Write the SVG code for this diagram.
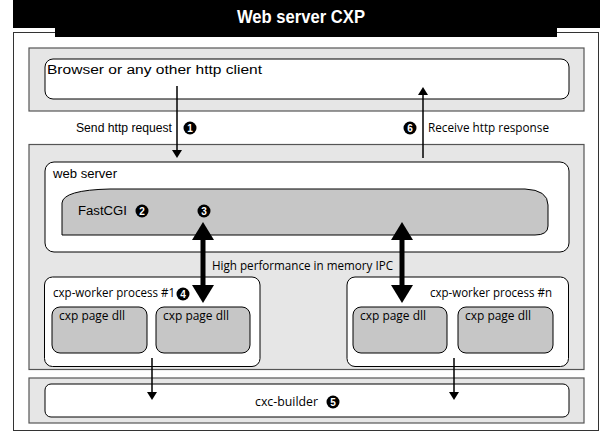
<svg xmlns="http://www.w3.org/2000/svg" width="600" height="433" viewBox="0 0 600 433">
<style>
.panel{fill:#e6e6e6;stroke:#555;stroke-width:1.2}
.wbox{fill:#fff;stroke:#000;stroke-width:1}
.gbox{fill:#c6c6c6;stroke:#000;stroke-width:1}
.a{font-family:"Liberation Sans",Arial,sans-serif;font-size:12px;fill:#000}
.m{font-family:"Open Sans","Liberation Sans",sans-serif;font-size:12px;fill:#000}
.num circle{fill:#000}
.num text{font-family:"Liberation Sans",Arial,sans-serif;font-size:10px;font-weight:bold;fill:#fff;text-anchor:middle}
.thin{stroke:#000;stroke-width:1.5;fill:none}
.thick{stroke:#000;stroke-width:5;fill:none}
</style>
<defs>
<marker id="ah" markerUnits="userSpaceOnUse" viewBox="0 0 8 10" refX="0" refY="5" markerWidth="8" markerHeight="10" orient="auto-start-reverse"><path d="M0,0 L8,5 L0,10 Z" fill="#000"/></marker>
<marker id="bh" markerUnits="userSpaceOnUse" viewBox="0 0 18 22" refX="0" refY="11" markerWidth="18" markerHeight="22" orient="auto-start-reverse"><path d="M0,0 L18,11 L0,22 Z" fill="#000"/></marker>
</defs>
<rect width="600" height="433" fill="#fff"/>
<g id="frame">
<rect x="13.5" y="32.5" width="585" height="398" fill="#fff" stroke="#333" stroke-width="1"/>
<path d="M13 0 H600 V28 H557 V37 H55 V28 H13 Z" fill="#000"/>
<text x="301" y="23" text-anchor="middle" font-family="Liberation Sans, Arial, sans-serif" font-size="18" font-weight="bold" fill="#fff" textLength="128" lengthAdjust="spacingAndGlyphs">Web server CXP</text>
</g>
<g id="client">
<rect class="panel" x="29" y="48" width="555" height="63"/>
<rect class="wbox" x="45" y="59" width="524" height="40" rx="8"/>
<text class="a" x="47" y="74" textLength="215" lengthAdjust="spacingAndGlyphs">Browser or any other http client</text>
</g>
<g id="server-panel">
<rect class="panel" x="29" y="144.5" width="555" height="225"/>
</g>
<g id="webserver">
<rect class="wbox" x="45" y="162" width="524" height="90" rx="9"/>
<text class="a" x="53" y="178" textLength="64" lengthAdjust="spacingAndGlyphs">web server</text>
</g>
<g id="fastcgi">
<path class="gbox" d="M62 203 Q63 190 110 189 L525 189 Q548 190 548 205 L548 226 Q548 235 535 235 L62 235 Z"/>
<text class="a" x="78" y="215" textLength="49" lengthAdjust="spacingAndGlyphs">FastCGI</text>
<g class="num"><circle cx="142" cy="211" r="6.5"/><text x="142" y="214.6">2</text></g>
<g class="num"><circle cx="204" cy="211" r="6.5"/><text x="204" y="214.6">3</text></g>
</g>
<g id="worker1">
<rect class="wbox" x="44.5" y="277" width="215.5" height="89.5" rx="8"/>
<text class="m" x="53" y="297" textLength="122" lengthAdjust="spacingAndGlyphs">cxp-worker process #1</text>
<g class="num"><circle cx="183" cy="294" r="6.5"/><text x="183" y="297.6">4</text></g>
<rect class="gbox" x="52" y="307" width="95" height="46" rx="8"/>
<text class="m" x="59" y="320" textLength="66" lengthAdjust="spacingAndGlyphs">cxp page dll</text>
<rect class="gbox" x="156" y="307" width="94" height="46" rx="8"/>
<text class="m" x="163" y="320" textLength="66" lengthAdjust="spacingAndGlyphs">cxp page dll</text>
</g>
<g id="workern">
<rect class="wbox" x="347" y="277" width="221.5" height="89.5" rx="8"/>
<text class="m" x="430" y="297" textLength="122" lengthAdjust="spacingAndGlyphs">cxp-worker process #n</text>
<rect class="gbox" x="353" y="307" width="94" height="46" rx="8"/>
<text class="m" x="360" y="320" textLength="66" lengthAdjust="spacingAndGlyphs">cxp page dll</text>
<rect class="gbox" x="458" y="307" width="95" height="46" rx="8"/>
<text class="m" x="465" y="320" textLength="66" lengthAdjust="spacingAndGlyphs">cxp page dll</text>
</g>
<g id="builder">
<rect class="panel" x="29" y="378" width="555" height="45"/>
<rect class="wbox" x="45" y="384" width="524" height="33" rx="6"/>
<text class="m" x="255" y="406" textLength="63" lengthAdjust="spacingAndGlyphs">cxc-builder</text>
<g class="num"><circle cx="333" cy="402" r="6.5"/><text x="333" y="405.6">5</text></g>
</g>
<g id="connectors">
<path class="thin" d="M177 86 V150" marker-end="url(#ah)"/>
<path class="thin" d="M423 158 V95" marker-end="url(#ah)"/>
<path class="thick" d="M203 240 V285" marker-start="url(#bh)" marker-end="url(#bh)"/>
<path class="thick" d="M402 240 V285" marker-start="url(#bh)" marker-end="url(#bh)"/>
<path class="thin" d="M152 358 V392" marker-end="url(#ah)"/>
<path class="thin" d="M454 358 V392" marker-end="url(#ah)"/>
<text class="a" x="76" y="132" textLength="96" lengthAdjust="spacingAndGlyphs">Send http request</text>
<g class="num"><circle cx="190" cy="128" r="6.5"/><text x="190" y="131.6">1</text></g>
<g class="num"><circle cx="410" cy="128" r="6.5"/><text x="410" y="131.6">6</text></g>
<text class="m" x="428" y="132" textLength="121" lengthAdjust="spacingAndGlyphs">Receive http response</text>
<text class="m" x="212" y="270" textLength="181" lengthAdjust="spacingAndGlyphs">High performance in memory IPC</text>
</g>
</svg>
